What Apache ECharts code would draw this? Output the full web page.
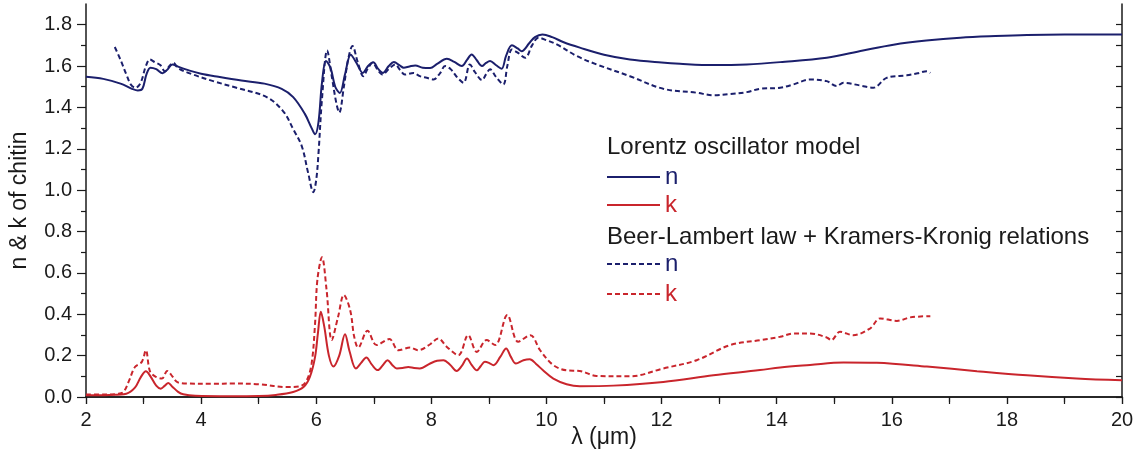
<!DOCTYPE html>
<html>
<head>
<meta charset="utf-8">
<script src="https://cdn.jsdelivr.net/npm/echarts@6/dist/echarts.min.js"></script>
<style>
  html, body { margin: 0; padding: 0; background: #fff; }
  #chart { width: 1141px; height: 455px; }
</style>
</head>
<body>
<div id="chart"></div>
<script>
// Optical constants of chitin versus wavelength (µm)
const yMajorTicks = ['0.0', '0.2', '0.4', '0.6', '0.8', '1.0', '1.2', '1.4', '1.6', '1.8'];
const yMinorTicks = [0.1, 0.3, 0.5, 0.7, 0.9, 1.1, 1.3, 1.5, 1.7];

// Lorentz oscillator model — refractive index n
const nLorentzX = [2.0, 2.3, 2.6, 2.8, 2.9, 2.98, 3.05, 3.12, 3.22, 3.33, 3.42, 3.5, 3.6, 3.8, 4.0, 4.3, 4.7, 5.1, 5.4, 5.6, 5.8, 5.92, 5.98, 6.04, 6.1, 6.17, 6.25, 6.33, 6.41, 6.5, 6.6, 6.7, 6.81, 6.9, 6.99, 7.08, 7.16, 7.26, 7.35, 7.45, 7.52, 7.62, 7.72, 7.85, 7.98, 8.1, 8.27, 8.4, 8.53, 8.62, 8.7, 8.79, 8.88, 8.95, 9.02, 9.12, 9.22, 9.3, 9.4, 9.5, 9.57, 9.7, 9.8, 9.93, 10.1, 10.3, 10.58, 11.0, 11.45, 12.0, 12.32, 12.9, 13.48, 14.06, 14.87, 15.5, 16.03, 16.6, 17.19, 17.8, 18.35, 19.0, 20.0];
const nLorentzY = [1.548, 1.538, 1.515, 1.49, 1.482, 1.49, 1.56, 1.592, 1.585, 1.565, 1.585, 1.608, 1.597, 1.578, 1.563, 1.548, 1.53, 1.515, 1.49, 1.45, 1.37, 1.30, 1.27, 1.33, 1.52, 1.625, 1.59, 1.5, 1.47, 1.56, 1.655, 1.615, 1.567, 1.6, 1.618, 1.585, 1.567, 1.6, 1.619, 1.603, 1.592, 1.598, 1.603, 1.592, 1.59, 1.61, 1.635, 1.62, 1.6, 1.63, 1.656, 1.628, 1.6, 1.615, 1.624, 1.605, 1.587, 1.65, 1.70, 1.685, 1.672, 1.71, 1.74, 1.753, 1.74, 1.715, 1.689, 1.655, 1.632, 1.617, 1.611, 1.605, 1.608, 1.619, 1.64, 1.675, 1.703, 1.723, 1.737, 1.745, 1.75, 1.752, 1.752];

// Lorentz oscillator model — extinction coefficient k
const kLorentzX = [2.0, 2.4, 2.7, 2.85, 2.95, 3.04, 3.12, 3.22, 3.3, 3.37, 3.43, 3.5, 3.6, 3.69, 3.9, 4.5, 5.0, 5.3, 5.6, 5.78, 5.89, 5.98, 6.03, 6.08, 6.14, 6.22, 6.3, 6.4, 6.5, 6.58, 6.69, 6.78, 6.87, 6.97, 7.07, 7.16, 7.24, 7.32, 7.4, 7.5, 7.6, 7.7, 7.8, 7.98, 8.1, 8.21, 8.33, 8.44, 8.53, 8.62, 8.7, 8.79, 8.86, 8.93, 9.0, 9.08, 9.2, 9.3, 9.38, 9.47, 9.6, 9.71, 9.82, 9.94, 10.12, 10.35, 10.58, 11.16, 12.03, 12.9, 13.71, 14.06, 14.58, 15.16, 15.74, 16.61, 17.48, 18.35, 19.21, 20.0];
const kLorentzY = [0.008, 0.01, 0.016, 0.045, 0.095, 0.125, 0.1, 0.055, 0.04, 0.055, 0.068, 0.05, 0.025, 0.013, 0.006, 0.004, 0.005, 0.01, 0.024, 0.048, 0.097, 0.194, 0.31, 0.412, 0.34, 0.2, 0.147, 0.2, 0.303, 0.22, 0.138, 0.165, 0.191, 0.155, 0.13, 0.155, 0.178, 0.155, 0.138, 0.14, 0.145, 0.14, 0.138, 0.162, 0.175, 0.178, 0.155, 0.126, 0.15, 0.186, 0.155, 0.129, 0.15, 0.17, 0.165, 0.154, 0.195, 0.235, 0.195, 0.162, 0.178, 0.183, 0.16, 0.129, 0.089, 0.062, 0.052, 0.055, 0.073, 0.105, 0.13, 0.143, 0.155, 0.167, 0.165, 0.147, 0.125, 0.105, 0.09, 0.081];

// Beer-Lambert law + Kramers-Kronig relations — n
const nKKX = [2.5, 2.6, 2.7, 2.78, 2.86, 2.95, 3.04, 3.11, 3.2, 3.29, 3.37, 3.45, 3.52, 3.6, 3.86, 4.21, 4.6, 5.14, 5.43, 5.6, 5.75, 5.86, 5.95, 6.0, 6.04, 6.1, 6.19, 6.27, 6.35, 6.4, 6.48, 6.56, 6.63, 6.72, 6.82, 6.9, 6.98, 7.07, 7.15, 7.26, 7.37, 7.46, 7.54, 7.69, 7.8, 7.92, 8.04, 8.15, 8.24, 8.34, 8.45, 8.56, 8.67, 8.76, 8.88, 8.95, 9.02, 9.13, 9.25, 9.32, 9.4, 9.5, 9.63, 9.75, 9.86, 10.0, 10.18, 10.53, 10.87, 11.45, 12.03, 12.61, 12.9, 13.2, 13.48, 13.71, 14.06, 14.29, 14.58, 14.87, 15.04, 15.16, 15.45, 15.68, 15.91, 16.26, 16.45, 16.61, 16.67];
const nKKY = [1.692, 1.63, 1.56, 1.51, 1.495, 1.52, 1.6, 1.632, 1.618, 1.605, 1.575, 1.6, 1.616, 1.59, 1.559, 1.527, 1.496, 1.45, 1.38, 1.295, 1.212, 1.083, 0.99, 1.05, 1.18, 1.44, 1.675, 1.55, 1.42, 1.375, 1.5, 1.64, 1.697, 1.62, 1.551, 1.59, 1.616, 1.58, 1.559, 1.585, 1.608, 1.58, 1.559, 1.567, 1.551, 1.543, 1.535, 1.565, 1.6, 1.584, 1.545, 1.519, 1.608, 1.57, 1.532, 1.56, 1.584, 1.545, 1.511, 1.6, 1.68, 1.665, 1.64, 1.7, 1.737, 1.725, 1.705, 1.648, 1.608, 1.551, 1.49, 1.471, 1.459, 1.465, 1.474, 1.49, 1.495, 1.511, 1.535, 1.527, 1.503, 1.519, 1.506, 1.495, 1.543, 1.555, 1.565, 1.575, 1.567];

// Beer-Lambert law + Kramers-Kronig relations — k
const kKKX = [2.0, 2.3, 2.55, 2.65, 2.75, 2.85, 2.97, 3.04, 3.11, 3.2, 3.32, 3.41, 3.5, 3.58, 3.75, 4.2, 4.56, 5.0, 5.49, 5.72, 5.83, 5.92, 5.98, 6.02, 6.1, 6.18, 6.27, 6.38, 6.48, 6.59, 6.66, 6.73, 6.89, 7.05, 7.27, 7.43, 7.63, 7.77, 7.98, 8.12, 8.27, 8.47, 8.64, 8.79, 8.96, 9.11, 9.32, 9.51, 9.72, 9.89, 10.12, 10.35, 10.58, 10.87, 11.45, 12.03, 12.61, 13.19, 13.71, 14.06, 14.29, 14.58, 14.87, 14.95, 15.1, 15.33, 15.62, 15.8, 16.09, 16.32, 16.67];
const kKKY = [0.012, 0.012, 0.015, 0.024, 0.08, 0.145, 0.17, 0.226, 0.125, 0.1, 0.089, 0.126, 0.1, 0.073, 0.065, 0.064, 0.065, 0.062, 0.048, 0.052, 0.077, 0.162, 0.356, 0.566, 0.676, 0.517, 0.275, 0.388, 0.493, 0.42, 0.291, 0.239, 0.32, 0.251, 0.28, 0.226, 0.239, 0.226, 0.255, 0.283, 0.242, 0.202, 0.299, 0.218, 0.275, 0.251, 0.396, 0.267, 0.299, 0.226, 0.154, 0.129, 0.126, 0.102, 0.10, 0.138, 0.178, 0.251, 0.275, 0.291, 0.307, 0.307, 0.288, 0.275, 0.315, 0.299, 0.331, 0.38, 0.368, 0.385, 0.391];

const NAVY = '#1b1f6c';
const RED = '#c9252c';
const INK = '#1a1a1a';
const FONT = 'Liberation Sans, Arial, sans-serif';

const zip = (xs, ys) => xs.map((x, i) => [x, ys[i]]);
const yMajorValues = yMajorTicks.map(Number);

function line(name, xs, ys, color, dashed) {
  return {
    name,
    type: 'line',
    data: zip(xs, ys),
    xAxisIndex: 0,
    yAxisIndex: 0,
    showSymbol: false,
    smooth: 0.35,
    lineStyle: { color, width: 2, type: dashed ? [5, 3] : 'solid' },
    z: dashed ? 3 : 4
  };
}

const axisLine = { show: true, lineStyle: { color: INK, width: 1.5 } };

function yAxisCfg(position, values, len, inside, withLabels) {
  return {
    type: 'value', min: 0, max: 1.9, position,
    axisLine: withLabels ? axisLine : { show: false },
    splitLine: { show: false },
    axisTick: { show: true, inside, length: len, customValues: values, lineStyle: { color: INK, width: 1.2 } },
    axisLabel: withLabels
      ? { show: true, customValues: values, formatter: v => v.toFixed(1), fontSize: 20, color: INK, fontFamily: FONT, margin: 14 }
      : { show: false },
    name: withLabels ? 'n & k of chitin' : '',
    nameLocation: 'middle',
    nameGap: 55,
    nameMoveOverlap: false,
    nameTextStyle: { fontSize: 23, color: INK, fontFamily: FONT }
  };
}

const chart = echarts.init(document.getElementById('chart'), null, { renderer: 'canvas' });

// legend block: header texts, then sample line + coloured label per row
const legendRows = [
  { header: 'Lorentz oscillator model', y: 147 },
  { label: 'n', color: NAVY, dash: null, y: 177 },
  { label: 'k', color: RED, dash: null, y: 205 },
  { header: 'Beer-Lambert law + Kramers-Kronig relations', y: 237 },
  { label: 'n', color: NAVY, dash: [5, 3], y: 264 },
  { label: 'k', color: RED, dash: [5, 3], y: 294 }
];
const legendGraphics = [];
legendRows.forEach(r => {
  if (r.header) {
    legendGraphics.push({ type: 'text', x: 607, y: r.y, style: { text: r.header, fontSize: 24, fill: INK, fontFamily: FONT, verticalAlign: 'middle' } });
  } else {
    legendGraphics.push({ type: 'line', shape: { x1: 607, y1: r.y, x2: 660, y2: r.y }, style: { stroke: r.color, lineWidth: 2.2, lineDash: r.dash } });
    legendGraphics.push({ type: 'text', x: 665, y: r.y, style: { text: r.label, fontSize: 24, fill: r.color, fontFamily: FONT, verticalAlign: 'middle' } });
  }
});

chart.setOption({
  animation: false,
  backgroundColor: '#fff',
  grid: { left: 86, right: 19, top: 4, bottom: 58, containLabel: false, outerBoundsMode: 'none' },
  xAxis: [
    {
      type: 'value', min: 2, max: 20, interval: 2, position: 'bottom',
      axisLine,
      splitLine: { show: false },
      axisTick: { show: true, inside: false, length: 7, lineStyle: { color: INK, width: 1.2 } },
      minorTick: { show: true, splitNumber: 2, length: 5, lineStyle: { color: INK, width: 1.2 } },
      minorSplitLine: { show: false },
      axisLabel: { fontSize: 20, color: INK, fontFamily: FONT, margin: 13 },
      name: 'λ (μm)', nameLocation: 'middle', nameGap: 29,
      nameMoveOverlap: false,
      nameTextStyle: { fontSize: 23, color: INK, fontFamily: FONT }
    },
    {
      type: 'value', min: 2, max: 20, interval: 2, position: 'top',
      axisLine,
      splitLine: { show: false },
      axisTick: { show: true, inside: true, length: 7, lineStyle: { color: INK, width: 1.2 } },
      minorTick: { show: true, splitNumber: 2, length: 7, lineStyle: { color: INK, width: 1.2 } },
      axisLabel: { show: false }
    }
  ],
  yAxis: [
    yAxisCfg('left', yMajorValues, 9, false, true),
    yAxisCfg('left', yMinorTicks, 5, false, false),
    Object.assign(yAxisCfg('right', yMajorValues, 6, true, false), { axisLine }),
    yAxisCfg('right', yMinorTicks, 6, true, false)
  ],
  series: [
    line('n (Beer-Lambert + Kramers-Kronig)', nKKX, nKKY, NAVY, true),
    line('k (Beer-Lambert + Kramers-Kronig)', kKKX, kKKY, RED, true),
    line('n (Lorentz)', nLorentzX, nLorentzY, NAVY, false),
    line('k (Lorentz)', kLorentzX, kLorentzY, RED, false)
  ],
  graphic: legendGraphics
});
</script>
</body>
</html>
